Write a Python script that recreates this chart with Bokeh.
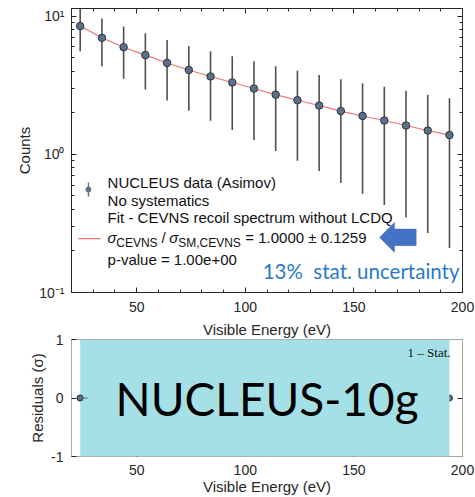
from bokeh.plotting import figure
from bokeh.layouts import column
from bokeh.models import (LinearAxis, LogAxis, FixedTicker, Range1d, Label, Title,
                          BoxAnnotation, PolyAnnotation, CustomJSTickFormatter)
from bokeh.embed import file_html
from bokeh.resources import INLINE

# ---- data -------------------------------------------------------------
energy = [24, 34, 44, 54, 64, 74, 84, 94, 104, 114, 124, 134, 144, 154,
          164, 174, 184, 194]
counts = [8.50, 6.99, 5.98, 5.24, 4.60, 4.09, 3.67, 3.32, 3.00, 2.71,
          2.47, 2.26, 2.06, 1.90, 1.76, 1.62, 1.49, 1.38]
count_err = [2.92, 2.64, 2.45, 2.29, 2.14, 2.02, 1.92, 1.82, 1.73, 1.65,
             1.57, 1.50, 1.44, 1.38, 1.33, 1.27, 1.22, 1.17]
residuals = [0, 0, 0, 0, 0, 0, 0, 0, 0, 0, 0, 0, 0, 0, 0, 0, 0, 0]

x_major = [50, 100, 150, 200]
x_minor = [30, 40, 60, 70, 80, 90, 110, 120, 130, 140, 160, 170, 180, 190]
y_major = [0.1, 1, 10]
y_major_labels = ["10\u207b\u00b9", "10\u2070", "10\u00b9"]
y_minor = [0.2, 0.3, 0.4, 0.5, 0.6, 0.7, 0.8, 0.9,
           2, 3, 4, 5, 6, 7, 8, 9]
res_ticks = [-1, 0, 1]
res_tick_labels = ["-1", "0", "1"]

FONT = "Liberation Sans"
INK = "#262626"
FRAME_GRAY = "#a8a8a8"

lower = [c - e for c, e in zip(counts, count_err)]
upper = [c + e for c, e in zip(counts, count_err)]


def style_axis(ax, ticker, color=INK, labels=True):
    ax.ticker = ticker
    ax.axis_line_color = color
    ax.major_tick_line_color = INK
    ax.minor_tick_line_color = INK
    ax.major_tick_in = 5
    ax.major_tick_out = 0
    ax.minor_tick_in = 3
    ax.minor_tick_out = 0
    ax.major_label_text_font = FONT
    ax.major_label_text_color = INK
    ax.major_label_text_font_size = "14px"
    ax.axis_label_text_font = FONT
    ax.axis_label_text_font_style = "normal"
    ax.axis_label_text_color = INK
    ax.axis_label_text_font_size = "15px"
    if not labels:
        # tick marks only on the mirrored sides
        ax.formatter = CustomJSTickFormatter(code="return ''")
        ax.major_label_standoff = 0


# ---- spectrum panel ---------------------------------------------------
p = figure(width=475, height=317, y_axis_type="log",
           x_range=Range1d(20, 200), y_range=Range1d(0.1, 11.4),
           output_backend="svg", toolbar_location=None,
           min_border_left=71, min_border_right=13, min_border_top=8,
           min_border_bottom=25, background_fill_color="white")
p.grid.visible = False
p.outline_line_color = INK

style_axis(p.xaxis[0], FixedTicker(ticks=x_major, minor_ticks=x_minor))
p.xaxis[0].major_label_standoff = 9

style_axis(p.yaxis[0], FixedTicker(ticks=y_major, minor_ticks=y_minor))
p.yaxis[0].axis_label = "Counts"
p.yaxis[0].major_label_standoff = 7
p.yaxis[0].axis_label_standoff = 3
p.yaxis[0].major_label_overrides = dict(zip(y_major, y_major_labels))

top_ax = LinearAxis()
style_axis(top_ax, FixedTicker(ticks=x_major, minor_ticks=x_minor), labels=False)
p.add_layout(top_ax, "above")
right_ax = LogAxis()
style_axis(right_ax, FixedTicker(ticks=y_major, minor_ticks=y_minor), labels=False)
p.add_layout(right_ax, "right")

# fit curve, error bars and points
p.line(energy, counts, line_color="#ee7272", line_width=1.1)
p.segment(x0=energy, y0=lower, x1=energy, y1=upper,
          line_color="#4f4f4f", line_width=1.6)
p.scatter(energy, counts, size=7.5, fill_color="#5c7088",
          line_color="#2a3644", line_width=1)

# legend block
p.segment(x0=[27.8], y0=[0.4955], x1=[27.8], y1=[0.626],
          line_color="#5c7088", line_width=1.4)
p.scatter([27.8], [0.557], size=5, fill_color="#5c7088", line_color="#5c7088")
p.segment(x0=[23.2], y0=[0.2455], x1=[33.4], y1=[0.2455],
          line_color="#ee7272", line_width=1.1)

LEG = dict(text_font=FONT, text_color="#111111", text_baseline="middle")
for txt, yv in [("NUCLEUS data (Asimov)", 0.623),
                ("No systematics", 0.465),
                ("Fit - CEVNS recoil spectrum without LCDQ", 0.3516),
                ("p-value = 1.00e+00", 0.1733)]:
    p.add_layout(Label(x=36.6, y=yv, text=txt, text_font_size="15px", **LEG))

p.add_layout(Label(x=36.6, y=0.2518, text="\u03c3", text_font_size="15px",
                   text_font_style="italic", **LEG))
p.add_layout(Label(x=40.6, y=0.228, text="CEVNS", text_font_size="12px", **LEG))
p.add_layout(Label(x=61.4, y=0.2518, text="/", text_font_size="15px", **LEG))
p.add_layout(Label(x=65.0, y=0.2518, text="\u03c3", text_font_size="15px",
                   text_font_style="italic", **LEG))
p.add_layout(Label(x=69.1, y=0.228, text="SM,CEVNS", text_font_size="12px", **LEG))
p.add_layout(Label(x=100.0, y=0.2518, text="= 1.0000 \u00b1 0.1259",
                   text_font_size="15px", **LEG))

# highlight arrow and note
p.add_layout(PolyAnnotation(
    xs=[161.8, 168.7, 168.7, 178.7, 178.7, 168.7, 168.7],
    ys=[0.2507, 0.3224, 0.2887, 0.2887, 0.2184, 0.2184, 0.1952],
    fill_color="#4472c4", fill_alpha=1, line_color="#2f528f", line_width=1))
p.add_layout(Label(x=108.0, y=0.1432, text="13%\u00a0 stat. uncertainty",
                   text_font="Lato", text_font_size="20.5px",
                   text_color="#2a7ac8", text_baseline="middle"))

# ---- residual panel ---------------------------------------------------
r = figure(width=475, height=180, x_range=Range1d(20, 200),
           y_range=Range1d(-1, 1), output_backend="svg", toolbar_location=None,
           min_border_left=71, min_border_right=13, min_border_top=21,
           min_border_bottom=41, background_fill_color="white")
r.grid.visible = False
r.outline_line_color = FRAME_GRAY

# x title of the spectrum panel sits in the top margin of this panel
r.add_layout(Title(text="Visible Energy (eV)", align="center", standoff=3,
                   text_font=FONT, text_font_size="15px",
                   text_font_style="normal", text_color=INK), "above")

style_axis(r.xaxis[0], FixedTicker(ticks=x_major, minor_ticks=[]), color=FRAME_GRAY)
r.xaxis[0].axis_label = "Visible Energy (eV)"
r.xaxis[0].major_label_standoff = 8
r.xaxis[0].axis_label_standoff = 0
style_axis(r.yaxis[0], FixedTicker(ticks=res_ticks, minor_ticks=[]), color=FRAME_GRAY)
r.yaxis[0].axis_label = "Residuals (\u03c3)"
r.yaxis[0].major_label_standoff = 8
r.yaxis[0].axis_label_standoff = 2
r.yaxis[0].major_label_overrides = dict(zip(res_ticks, res_tick_labels))
r_right = LinearAxis()
style_axis(r_right, FixedTicker(ticks=[0], minor_ticks=[]), color=FRAME_GRAY,
           labels=False)
r.add_layout(r_right, "right")

r.scatter(energy, residuals, size=6, fill_color="#5c7088",
          line_color="#2a3644", line_width=1)
r.add_layout(BoxAnnotation(left=energy[0], right=energy[-1],
                           fill_color="#a5e0e6", fill_alpha=1, line_alpha=0))
r.add_layout(Label(x=174.7, y=0.771, text="1 \u2013 Stat.",
                   text_font="Liberation Serif", text_font_size="13px",
                   text_color="#111111", text_baseline="middle"))
r.scatter(energy[:1], residuals[:1], size=6, fill_color="#5c7088",
          line_color="#2a3644", line_width=1, level="overlay")
r.segment(x0=energy[:1], y0=residuals[:1], x1=[27.5], y1=residuals[:1],
          line_color="#5c7088", line_width=1, level="overlay")
r.add_layout(Label(x=40.3, y=0.0, text="NUCLEUS-10g", text_font="Lato",
                   text_font_size="46px", text_color="#000000",
                   text_baseline="middle"))

layout = column(p, r, spacing=0)
open("out.html", "w").write(file_html(layout, INLINE))
